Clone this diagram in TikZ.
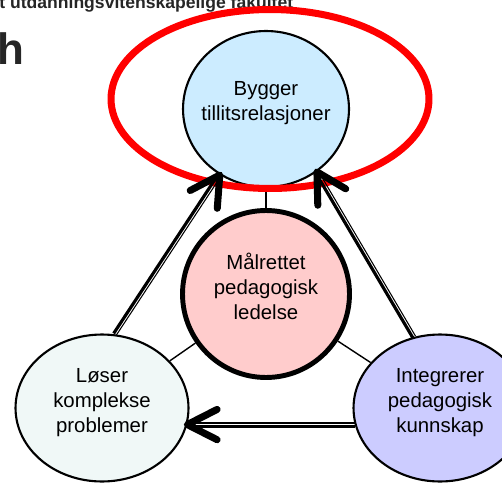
\documentclass[tikz,border=0pt]{standalone}
\usepackage{fontspec}
\setmainfont{Liberation Sans}
\usetikzlibrary{shapes.geometric, calc}

\definecolor{skyfill}{RGB}{204,236,255}
\definecolor{rosefill}{RGB}{255,204,204}
\definecolor{mintfill}{RGB}{240,248,247}
\definecolor{lilacfill}{RGB}{204,204,255}

\begin{document}
\begin{tikzpicture}[
  x=0.02cm, y=-0.02cm,
  every node/.style={align=center, inner sep=0pt, font=\fontsize{11.6}{14.2}\selectfont},
  circ/.style={draw, ellipse, line width=1.2pt, text depth=9pt},
  core/.style={draw, circle, line width=2.8pt, fill=rosefill, text depth=9pt},
  heading/.style={anchor=base west, text=black!85},
  shaft/.style={line width=1.8pt},
  rail/.style={line width=0.6pt},
  chevron/.style={line width=4pt, line cap=round, line join=round},
  spoke/.style={line width=0.8pt}
]
\useasboundingbox (0,0) rectangle (502,482);
\clip (0,0) rectangle (502,482);

% Slide header, cut by the frame
\node[heading, font=\fontsize{10}{12}\selectfont\bfseries] (fakultet) at (-1,9) {t utdanningsvitenskapelige fakultet};
\node[heading, font=\fontsize{25}{30}\selectfont\bfseries] (tittel) at (-3,65) {h};

% The four circles
\node[circ, fill=skyfill, inner sep=-5pt, minimum width=3.32cm, minimum height=3.12cm] (bygger) at (266,109) {Bygger\\tillitsrelasjoner};
\node[core, minimum size=3.34cm] (malrettet) at (266,294) {Målrettet\\pedagogisk\\ledelse};
\node[circ, fill=mintfill, minimum width=3.46cm, minimum height=2.94cm] (loser) at (102,408) {Løser\\komplekse\\problemer};
\node[circ, fill=lilacfill, minimum width=3.46cm, minimum height=2.94cm] (integrerer) at (440,408) {Integrerer\\pedagogisk\\kunnskap};

% Thin lines from the centre
\draw[spoke] (malrettet) -- (bygger);
\draw[spoke] (malrettet) -- (loser);
\draw[spoke] (malrettet) -- (integrerer);

% Red ring round the top circle
\node[draw=red, ellipse, line width=4pt, minimum width=6.36cm, minimum height=3.58cm] (fokus) at (270,99) {};

% Arrows: heavy line on the left, thin rail on the right, open head
\draw[shaft] ($(loser.80)!0.9pt!90:(bygger.235)$) -- ($(bygger.235)!0.9pt!-90:(loser.80)$);
\draw[rail] ($(loser.80)!0.9pt!-90:(bygger.235)$) -- ($(bygger.235)!0.9pt!90:(loser.80)$);
\draw[chevron] ($(bygger.235)!19pt!29:(loser.80)$) -- (bygger.235) -- ($(bygger.235)!19pt!-29:(loser.80)$);

\draw[shaft] ($(integrerer.110)!0.9pt!90:(bygger.309)$) -- ($(bygger.309)!0.9pt!-90:(integrerer.110)$);
\draw[rail] ($(integrerer.110)!0.9pt!-90:(bygger.309)$) -- ($(bygger.309)!0.9pt!90:(integrerer.110)$);
\draw[chevron] ($(bygger.309)!19pt!29:(integrerer.110)$) -- (bygger.309) -- ($(bygger.309)!19pt!-29:(integrerer.110)$);

\draw[shaft] ($(integrerer.191)!0.9pt!90:(loser.349)$) -- ($(loser.349)!0.9pt!-90:(integrerer.191)$);
\draw[rail] ($(integrerer.191)!0.9pt!-90:(loser.349)$) -- ($(loser.349)!0.9pt!90:(integrerer.191)$);
\draw[chevron] ($(loser.349)!19pt!27:(integrerer.191)$) -- (loser.349) -- ($(loser.349)!19pt!-27:(integrerer.191)$);

\end{tikzpicture}
\end{document}
